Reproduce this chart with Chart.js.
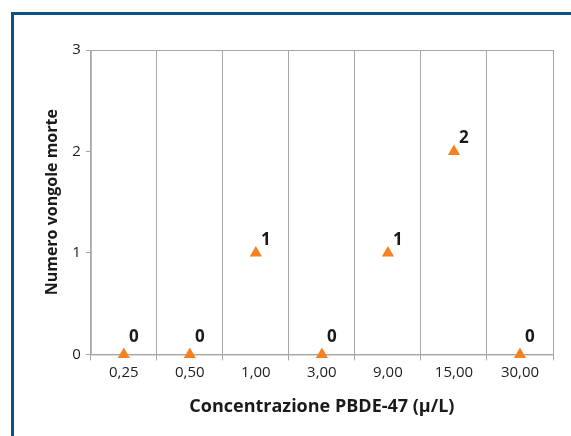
<!DOCTYPE html>
<html>
<head>
<meta charset="utf-8">
<script src="https://cdn.jsdelivr.net/npm/chart.js@4"></script>
<style>
    html, body { margin: 0; padding: 0; background: #fff; }
    .wrap { position: relative; width: 571px; height: 436px; overflow: hidden; }
    .frame {
        position: absolute; left: 11px; top: 12px; width: 600px; height: 500px;
        border-top: 3px solid #0e5184; border-left: 3px solid #0e5184;
    }
    canvas { position: absolute; left: 0; top: 0; }
</style>
</head>
<body>
<div class="wrap">
    <div class="frame"></div>
    <canvas id="chart" width="571" height="436"></canvas>
</div>
<script>
// Data
const concentrations = ['0,25', '0,50', '1,00', '3,00', '9,00', '15,00', '30,00'];
const deadClams = [0, 0, 1, 0, 1, 2, 0];
const yTicks = [0, 1, 2, 3];

const FONT = '"Open Sans", "Noto Sans", sans-serif';
const GRID = '#a6a6a6';

// Border around the plot area
const plotBorder = {
    id: 'plotBorder',
    beforeDatasetsDraw(chart) {
        const { ctx, chartArea: a } = chart;
        ctx.save();
        ctx.strokeStyle = GRID;
        ctx.lineWidth = 1;
        ctx.strokeRect(a.left + 0.5, a.top + 0.5, a.right - a.left, a.bottom - a.top);
        ctx.restore();
    }
};

// Value labels next to each marker
const valueLabels = {
    id: 'valueLabels',
    afterDatasetsDraw(chart) {
        const { ctx } = chart;
        const meta = chart.getDatasetMeta(0);
        ctx.save();
        ctx.font = 'bold 17px ' + FONT;
        ctx.fillStyle = '#1a1a1a';
        ctx.textAlign = 'center';
        ctx.textBaseline = 'middle';
        meta.data.forEach((pt, i) => {
            const v = deadClams[i];
            const dy = v === 0 ? -17 : -13;
            ctx.fillText(String(v), pt.x + 10, pt.y + dy);
        });
        ctx.restore();
    }
};

new Chart(document.getElementById('chart').getContext('2d'), {
    type: 'line',
    data: {
        labels: concentrations,
        datasets: [{
            data: deadClams,
            showLine: false,
            pointStyle: 'triangle',
            pointRadius: 7,
            pointHoverRadius: 7,
            backgroundColor: '#f68121',
            borderColor: '#f68121',
            borderWidth: 0
        }]
    },
    options: {
        responsive: false,
        animation: false,
        clip: false,
        layout: { padding: { left: 43, right: 18, top: 50, bottom: 18 } },
        plugins: {
            legend: { display: false },
            tooltip: { enabled: false }
        },
        scales: {
            x: {
                type: 'category',
                offset: true,
                grid: {
                    offset: true,
                    color: GRID,
                    drawTicks: true,
                    tickLength: 6
                },
                border: { color: GRID },
                ticks: {
                    color: '#222',
                    font: { family: FONT, size: 15 },
                    padding: 3,
                    maxRotation: 0
                },
                title: {
                    display: true,
                    text: 'Concentrazione PBDE-47 (μ/L)',
                    color: '#1a1a1a',
                    font: { family: FONT, size: 18, weight: 'bold' },
                    padding: { top: 12, bottom: 0 }
                }
            },
            y: {
                min: 0,
                max: 3,
                afterBuildTicks(axis) {
                    axis.ticks = yTicks.map(v => ({ value: v }));
                },
                grid: {
                    drawOnChartArea: false,
                    color: GRID,
                    tickLength: 5
                },
                border: { color: GRID },
                ticks: {
                    color: '#222',
                    font: { family: FONT, size: 15 },
                    padding: 5
                },
                title: {
                    display: true,
                    text: 'Numero vongole morte',
                    color: '#1a1a1a',
                    font: { family: FONT, size: 16, weight: 'bold' },
                    padding: { top: 0, bottom: 5 }
                }
            }
        }
    },
    plugins: [plotBorder, valueLabels]
});
</script>
</body>
</html>
